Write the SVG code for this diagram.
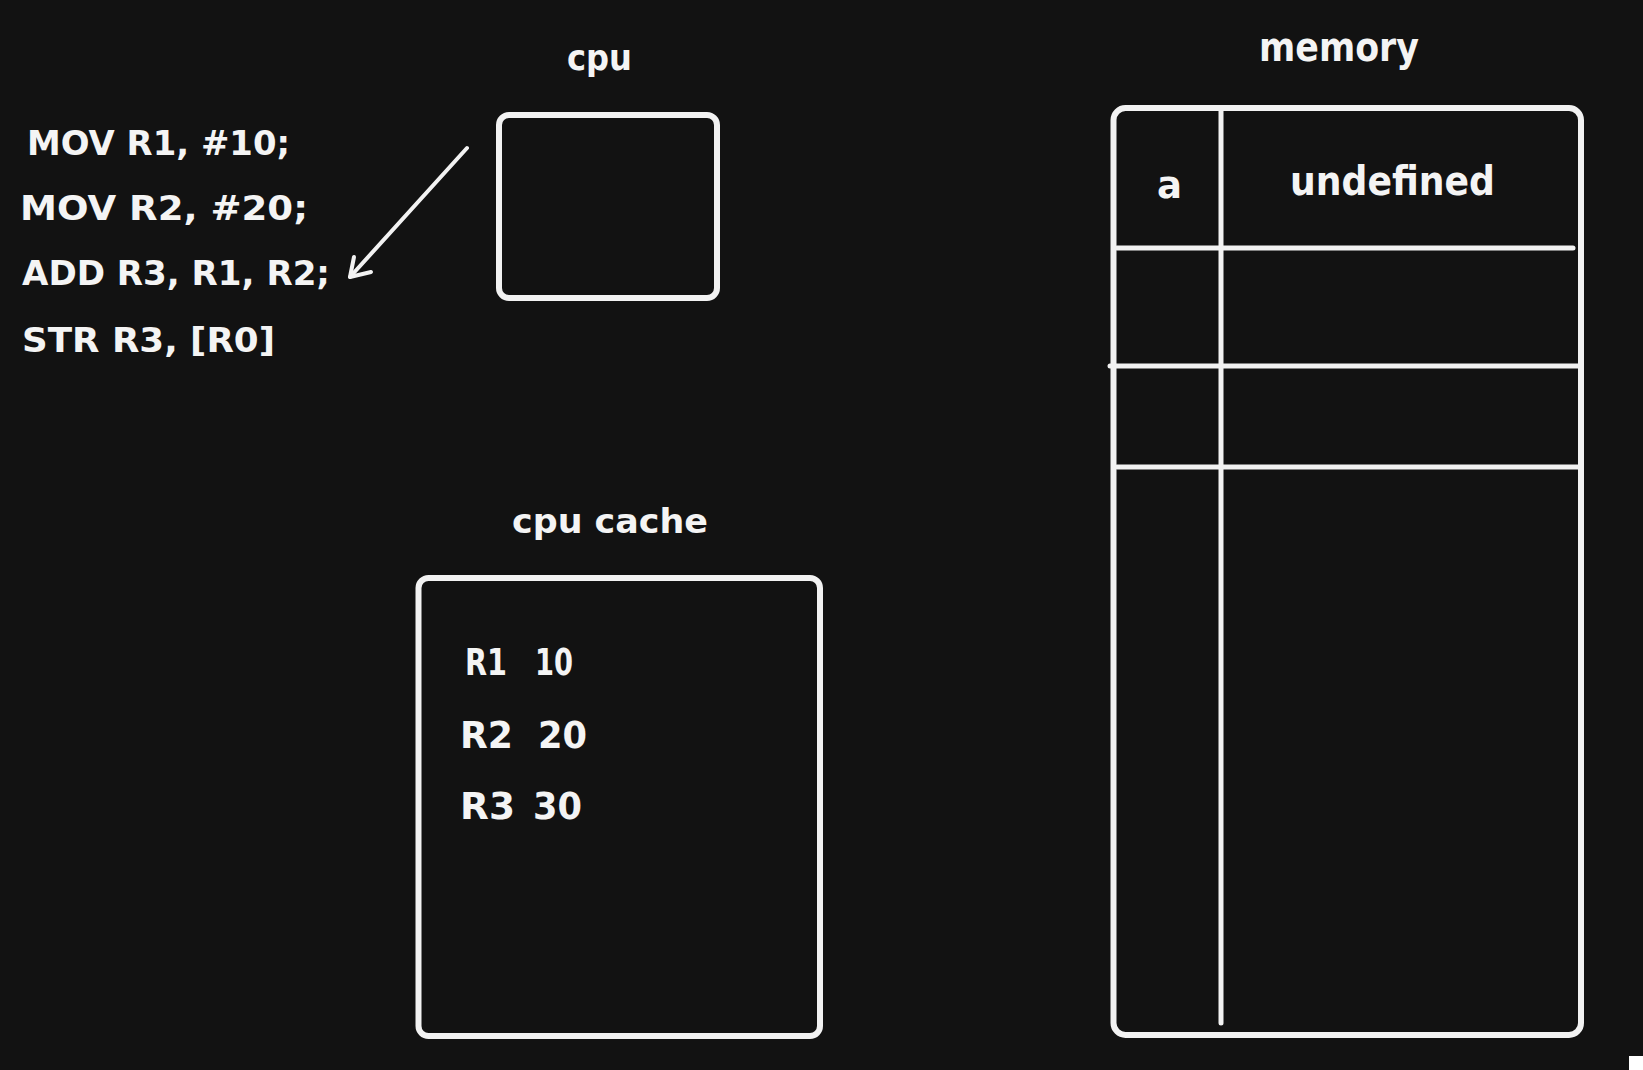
<svg xmlns="http://www.w3.org/2000/svg" width="1643" height="1070" viewBox="0 0 1643 1070">
  <style>
    .bg { fill: #121212; }
    .box { fill: none; stroke: #f2f2f2; stroke-width: 6; }
    .grid { stroke: #f2f2f2; stroke-width: 5; stroke-linecap: round; fill: none; }
    .arrow { stroke: #f2f2f2; stroke-width: 4; stroke-linecap: round; stroke-linejoin: round; fill: none; }
    .t { fill: #f4f4f4; font-family: "DejaVu Sans", "Liberation Sans", sans-serif; font-weight: bold; }
  </style>

  <rect class="bg" x="0" y="0" width="1643" height="1070"/>

  <!-- assembly listing -->
  <g id="code">
    <text class="t" x="27" y="155" font-size="34" textLength="263" lengthAdjust="spacingAndGlyphs">MOV R1, #10;</text>
    <text class="t" x="20" y="220" font-size="34" textLength="288" lengthAdjust="spacingAndGlyphs">MOV R2, #20;</text>
    <text class="t" x="22" y="285" font-size="34" textLength="308" lengthAdjust="spacingAndGlyphs">ADD R3, R1, R2;</text>
    <text class="t" x="22" y="352" font-size="34" textLength="253" lengthAdjust="spacingAndGlyphs">STR R3, [R0]</text>
  </g>

  <!-- processor -->
  <g id="cpu">
    <text class="t" x="567" y="70" font-size="35" textLength="65" lengthAdjust="spacingAndGlyphs">cpu</text>
    <rect class="box" x="499" y="115" width="218" height="183" rx="10"/>
  </g>

  <!-- register cache -->
  <g id="cpu-cache">
    <text class="t" x="512" y="533" font-size="34" textLength="196" lengthAdjust="spacingAndGlyphs">cpu cache</text>
    <rect class="box" x="418.5" y="578" width="401.5" height="458" rx="10"/>
    <text class="t" x="465" y="675" font-size="37"><tspan textLength="42" lengthAdjust="spacingAndGlyphs">R1</tspan> <tspan x="535" textLength="38" lengthAdjust="spacingAndGlyphs">10</tspan></text>
    <text class="t" x="460" y="748" font-size="38"><tspan textLength="53" lengthAdjust="spacingAndGlyphs">R2</tspan> <tspan x="538" textLength="49" lengthAdjust="spacingAndGlyphs">20</tspan></text>
    <text class="t" x="460" y="819" font-size="37"><tspan textLength="55" lengthAdjust="spacingAndGlyphs">R3</tspan> <tspan x="533" textLength="49" lengthAdjust="spacingAndGlyphs">30</tspan></text>
  </g>

  <!-- main memory table -->
  <g id="memory">
    <text class="t" x="1259" y="61" font-size="40" textLength="160" lengthAdjust="spacingAndGlyphs">memory</text>
    <rect class="box" x="1113.5" y="108" width="467.5" height="927" rx="12"/>
    <line class="grid" x1="1221" y1="111" x2="1221" y2="1023"/>
    <line class="grid" x1="1117" y1="248" x2="1573" y2="248"/>
    <line class="grid" x1="1110" y1="366" x2="1581" y2="366"/>
    <line class="grid" x1="1117" y1="467" x2="1581" y2="467"/>
    <text class="t" x="1157" y="198" font-size="37" textLength="25" lengthAdjust="spacingAndGlyphs">a</text>
    <text class="t" x="1290" y="195" font-size="40" textLength="205" lengthAdjust="spacingAndGlyphs">undefined</text>
  </g>

  <!-- connectors -->
  <g id="connectors">
    <path class="arrow" d="M467 148 L350 277"/>
    <path class="arrow" d="M354 257 L350 277 L371 272"/>
  </g>

  <rect x="1629" y="1056" width="14" height="14" fill="#ffffff"/>
</svg>
